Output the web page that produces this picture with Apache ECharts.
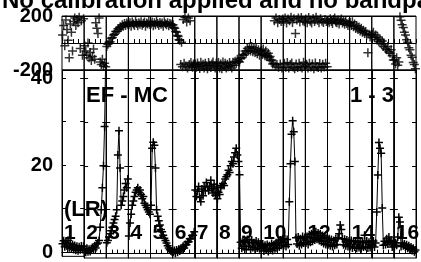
<!DOCTYPE html>
<html>
<head>
<meta charset="utf-8">
<style>
  html, body { margin: 0; padding: 0; background: #fff; }
  #chart { width: 421px; height: 262px; }
</style>
<script src="https://cdn.jsdelivr.net/npm/echarts@6/dist/echarts.min.js"></script>
</head>
<body>
<div id="chart"></div>
<script>
// amplitude, one array per spectral window, channels left to right
var amp01 = [1.9, 2.6, 1.2, 2.3, 1.4, 2.7, 1.0, 2.0, 0.8, 1.7, 0.6, 1.5, 0.4, 1.3, 0.3, 1.2, 0.5, 1.4, 0.6, 1.3];
var amp02 = [0.9, 0.3, 1.2, 0.4, 1.0, 0.5, 1.1, 1.4, 0.9, 1.8, 1.3, 2.2, 2.4, 3.0, 6.0, 10.0, 15.0, 20.0, 29.0, 45.0];
var amp03 = [2.5, 3.0, 3.8, 4.5, 5.2, 6.0, 7.0, 7.8, 8.5, 10.0, 22.5, 28.0, 19.5, 11.0, 12.0, 13.0, 14.5, 16.0, 15.0, 17.0];
var amp04 = [4.0, 7.0, 9.0, 11.0, 12.0, 13.0, 14.0, 14.5, 15.0, 14.0, 14.5, 13.5, 12.5, 13.0, 11.5, 11.0, 10.5, 10.0, 9.5, 9.0];
var amp05 = [11.0, 24.0, 25.4, 24.7, 19.5, 10.0, 8.5, 7.5, 6.5, 5.5, 5.0, 4.2, 3.5, 3.0, 2.4, 1.8, 1.3, 0.9, 0.6, 0.4];
var amp06 = [0.3, 0.7, 0.1, 0.8, 0.3, 1.0, 0.6, 1.2, 1.0, 1.7, 1.3, 2.1, 2.0, 2.7, 2.7, 3.4, 3.4, 4.1, 4.2, 5.0];
var amp07 = [14.5, 13.0, 14.2, 15.3, 12.8, 11.8, 14.7, 13.2, 15.3, 14.3, 16.2, 15.2, 14.3, 15.4, 16.7, 14.8, 13.8, 15.8, 13.3, 15.2];
var amp08 = [12.5, 14.0, 13.5, 15.0, 15.5, 16.0, 15.5, 17.0, 17.5, 18.0, 19.0, 18.5, 20.0, 21.0, 20.5, 22.0, 23.0, 24.0, 22.5, 21.0];
var amp09 = [18.0, 2.6, 1.2, 3.0, 1.6, 2.8, 0.9, 3.2, 1.7, 2.6, 1.0, 3.1, 1.4, 2.5, 0.9, 2.9, 1.3, 2.6, 1.1, 2.2];
var amp10 = [1.6, 2.2, 0.6, 1.9, 0.8, 2.1, 0.5, 1.8, 1.0, 2.3, 0.7, 2.0, 1.1, 2.5, 1.2, 2.9, 1.5, 3.1, 1.9, 3.3];
var amp11 = [1.9, 3.4, 1.6, 3.2, 2.1, 11.8, 20.5, 27.2, 30.3, 27.8, 21.0, 3.6, 2.2, 3.8, 1.8, 3.4, 2.1, 3.9, 2.4, 3.7];
var amp12 = [2.4, 3.9, 2.1, 4.3, 2.6, 4.5, 2.8, 4.8, 3.1, 5.0, 3.3, 4.7, 3.0, 4.5, 2.7, 4.1, 2.3, 3.8, 2.1, 3.5];
var amp13 = [2.0, 3.4, 1.8, 3.2, 1.6, 3.0, 1.9, 3.4, 2.1, 3.6, 4.5, 6.5, 5.5, 3.4, 2.0, 3.3, 1.8, 3.1, 1.6, 2.9];
var amp14 = [1.6, 3.0, 1.3, 2.7, 1.5, 2.9, 1.2, 2.6, 1.4, 2.8, 1.1, 2.5, 1.5, 4.2, 1.6, 2.9, 1.3, 2.6, 1.4, 2.8];
var amp15 = [1.8, 2.9, 1.5, 2.4, 9.5, 17.9, 25.3, 24.0, 22.9, 10.4, 1.9, 2.8, 2.1, 3.4, 2.2, 3.8, 2.6, 3.0, 1.5, 2.8];
var amp16 = [1.6, 2.5, 1.9, 3.8, 8.3, 7.2, 1.6, 2.4, 1.8, 2.2, 1.5, 2.0, 1.2, 1.8, 1.0, 1.5, 0.7, 1.2, 0.4, 0.8];

// phase (degrees), one array per spectral window
var ph01 = [60, 130, -20, 170, 100, 20, -110, 140, 80, -60, 160, 185, 130, 175, 150, 190, -40, 165, -90, 180];
var ph02 = [-20, -60, -90, 0, -110, -70, -130, -100, -45, -120, 150, 110, 70, 185, -140, -160, -120, -170, -150, -175];
var ph03 = [-25, -10, 5, 10, 35, 40, 60, 65, 85, 85, 105, 100, 120, 115, 135, 125, 145, 130, 148, 138];
var ph04 = [135, 150, 125, 155, 140, 130, 160, 145, 128, 150, 138, 158, 132, 145, 155, 125, 148, 140, 160, 135];
var ph05 = [140, 155, 128, 150, 135, 160, 145, 130, 152, 138, 148, 125, 158, 142, 135, 150, 128, 145, 138, 130];
var ph06 = [135, 115, 110, 85, 80, 55, 50, 25, 20, -160, 5, -175, 175, -150, 190, -170, 155, -185, 185, -160, 165, -145, -170, -180, -155, -165];
var ph07 = [-155, -180, -148, -170, -188, -142, -172, -158, -185, -150, -168, -190, -145, -165, -182, -155, -140, -170, -186, -150];
var ph08 = [-170, -145, -185, -155, -190, -140, -172, -150, -185, -158, -175, -145, -168, -185, -142, -165, -135, -150, -120, -135];
var ph09 = [-140, -115, -110, -85, -90, -60, -75, -40, -55, -30, -60, -25, -65, -35, -70, -40, -80, -50, -90, -60];
var ph10 = [-55, -85, -45, -80, -95, -60, -100, -90, -75, -110, -100, -130, -125, -155, -150, 165, -170, 185, -160, 150, -180, 175, -155, 160, -185, 178];
var ph11 = [160, -150, 185, -180, 148, -145, 178, -185, 165, -160, 190, -148, 152, -178, 180, -190, 70, -155, 170, -182, 185, -150, 155, -175, 188, -185, 165, -142, 158, -170];
var ph12 = [178, -158, 150, -185, 188, -150, 162, -178, 148, -155, 182, -190, 160, -148, 190, -175, 168, -182, 150, -152, 180, -186, 162, -158, 152, -178, 175, -150, 160, -175];
var ph13 = [165, 150, 180, 160, 145, 175, 185, 155, 150, 170, 140, 165, 178, 148, 160, 138, 165, 145, 130, 150];
var ph14 = [150, 130, 158, 120, 140, 108, 128, 100, 118, 88, 110, 80, 95, 70, 85, 60, -72, 65, 45, 60];
var ph15 = [65, 80, 40, 60, 25, 45, 10, 30, -5, 15, -25, -5, -40, -50, -25, -65, -75, -50, -95, -125];
var ph16 = [-125, -155, -110, -165, -140, 195, 168, 135, 115, 80, 60, 25, 5, -35, -50, -90, -105, -145, -160, -190];

var ampTicks = [0, 10, 20, 30, 40];
var ampLabels = [0, 20, 40];
var winLabels = ['1', '2', '3', '4', '5', '6', '7', '8', '9', '10', '', '12', '', '14', '', '16'];

var amps = [amp01, amp02, amp03, amp04, amp05, amp06, amp07, amp08,
            amp09, amp10, amp11, amp12, amp13, amp14, amp15, amp16];
var phases = [ph01, ph02, ph03, ph04, ph05, ph06, ph07, ph08,
              ph09, ph10, ph11, ph12, ph13, ph14, ph15, ph16];

var FONT = '"Liberation Sans", Arial, Helvetica, sans-serif';
var PLUS = 'path://M0,5L10,5M5,0L5,10';
var nWin = 16;
var plotLeft = 62;
var plotRight = 416;
var winW = (plotRight - plotLeft) / nWin;
var nChan = 20;

function channelData(vals) {
  return vals.map(function (v, k) {
    return [(k + 0.5) * nChan / vals.length, v];
  });
}

var grids = [], xAxes = [], yAxes = [], series = [], graphics = [];

function xAxisFor(g) {
  return {
    gridIndex: g, type: 'value', min: 0, max: nChan, interval: 5,
    axisLine: { show: true, lineStyle: { color: '#000', width: 1 } },
    axisTick: { show: true, inside: true, length: 4, lineStyle: { color: '#000' } },
    axisLabel: { show: false },
    splitLine: { show: false }
  };
}

// phase panels (top)
for (var i = 0; i < nWin; i++) {
  grids.push({
    left: plotLeft + i * winW, top: 16, width: winW, height: 54,
    show: true, borderColor: '#000', borderWidth: 1, backgroundColor: 'transparent'
  });
  xAxes.push(xAxisFor(i));
  yAxes.push({
    gridIndex: i, type: 'value', min: -200, max: 200, interval: 200,
    axisLine: { show: false },
    axisTick: { show: false },
    axisLabel: {
      show: i === 0, margin: 9, color: '#000', padding: [5, 0, 0, 0],
      fontFamily: FONT, fontSize: 20, fontWeight: 'bold',
      formatter: function (v) { return v === 0 ? '' : String(v); }
    },
    splitLine: { show: true, lineStyle: { color: '#000', width: 1 } }
  });
  series.push({
    type: 'scatter', xAxisIndex: i, yAxisIndex: i,
    data: channelData(phases[i]),
    symbol: PLUS, symbolSize: 9,
    itemStyle: { color: '#000', borderColor: '#000', borderWidth: 1.5 },
    silent: true, animation: false
  });
}

// amplitude panels (bottom)
for (var j = 0; j < nWin; j++) {
  var g = nWin + j;
  grids.push({
    left: plotLeft + j * winW, top: 70, width: winW, height: 188,
    show: true, borderColor: '#000', borderWidth: 1, backgroundColor: 'transparent'
  });
  xAxes.push(xAxisFor(g));
  ['left', 'right'].forEach(function (pos) {
    yAxes.push({
      gridIndex: g, type: 'value', position: pos, min: -1, max: 41.85,
      axisLine: { show: true, lineStyle: { color: '#000', width: 1 } },
      axisTick: { show: true, inside: true, length: 4, customValues: ampTicks, lineStyle: { color: '#000' } },
      axisLabel: {
        show: pos === 'left' && j === 0, customValues: ampLabels, margin: 9, color: '#000',
        padding: [3, 0, 0, 0], fontFamily: FONT, fontSize: 20, fontWeight: 'bold'
      },
      splitLine: { show: false }
    });
  });
  series.push({
    type: 'line', xAxisIndex: g, yAxisIndex: nWin + j * 2,
    data: channelData(amps[j]),
    symbol: PLUS, symbolSize: 8, showSymbol: true,
    lineStyle: { color: '#000', width: 1 },
    itemStyle: { color: '#000', borderColor: '#000', borderWidth: 1.5 },
    silent: true, animation: false
  });
  if (winLabels[j]) {
    graphics.push({
      type: 'text', x: plotLeft + j * winW + 2, y: 233,
      style: { text: winLabels[j], font: 'bold 21px ' + FONT, fill: '#000', align: 'left', verticalAlign: 'middle' }
    });
  }
}

graphics.push(
  { type: 'text', x: 2, y: 1,
    style: { text: 'No calibration applied and no bandpass', font: 'bold 24px ' + FONT, fill: '#000', align: 'left', verticalAlign: 'middle' } },
  { type: 'text', x: 86, y: 96,
    style: { text: 'EF - MC', font: 'bold 22px ' + FONT, fill: '#000', align: 'left', verticalAlign: 'middle' } },
  { type: 'text', x: 394, y: 96,
    style: { text: '1 - 3', font: 'bold 22px ' + FONT, fill: '#000', align: 'right', verticalAlign: 'middle' } },
  { type: 'text', x: 64, y: 210,
    style: { text: '(LR)', font: 'bold 22px ' + FONT, fill: '#000', align: 'left', verticalAlign: 'middle' } }
);

var chart = echarts.init(document.getElementById('chart'));
chart.setOption({
  backgroundColor: '#fff',
  animation: false,
  grid: grids,
  xAxis: xAxes,
  yAxis: yAxes,
  series: series,
  graphic: graphics
});
</script>
</body>
</html>
